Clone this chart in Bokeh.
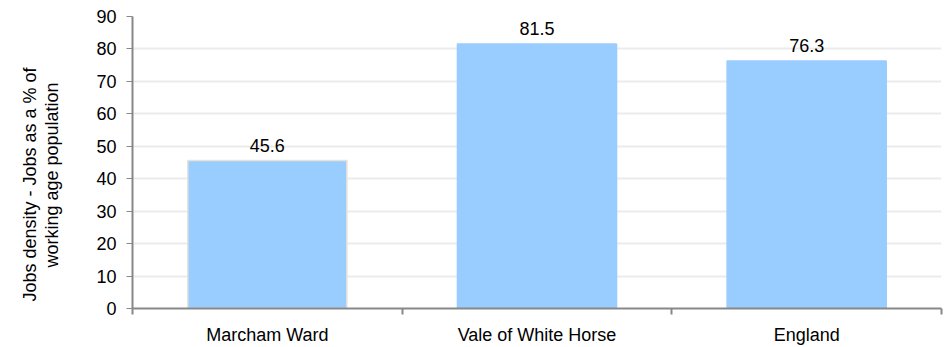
from bokeh.plotting import figure
from bokeh.models import ColumnDataSource, FixedTicker, Range1d, LabelSet, Title
from bokeh.core.properties import value
from bokeh.embed import file_html
from bokeh.resources import INLINE

categories = ["Marcham Ward", "Vale of White Horse", "England"]
values = [45.6, 81.5, 76.3]
y_ticks = [0, 10, 20, 30, 40, 50, 60, 70, 80, 90]
y_title = ["Jobs density - Jobs as a % of", "working age population"]

xs = [i + 0.5 for i in range(len(categories))]
labels = [f"{v:.1f}" for v in values]
line_colors = ["#e6e2d6", "#99ccff", "#99ccff"]

src = ColumnDataSource(dict(x=xs, top=values, label=labels, lc=line_colors))

p = figure(width=943, height=347, output_backend="svg", toolbar_location=None,
           x_range=Range1d(0, len(categories)), y_range=Range1d(0, 90),
           min_border_left=132, min_border_right=2, min_border_top=16, min_border_bottom=37)
p.outline_line_color = None
p.background_fill_color = "white"
p.border_fill_color = "white"

p.vbar(x="x", top="top", width=0.59, bottom=0, source=src,
       fill_color="#99ccff", line_color="lc", line_width=1.5)

font = "Liberation Sans"
p.add_layout(LabelSet(x="x", y="top", text="label", source=src,
                      text_align="center", text_baseline="alphabetic", y_offset=9,
                      text_font=value(font), text_font_size=value("18px"),
                      text_color="#000000"))

# spacer between the y axis and its title lines
p.add_layout(Title(text=" ", standoff=10, text_font=font, text_font_size="18px",
                   text_font_style="normal"), "left")

# y axis title: two lines as left-side titles (inner line first)
offsets = [7, 41]
for line, off in reversed(list(zip(y_title, offsets))):
    p.add_layout(Title(text=line, align="left", offset=off, standoff=0,
                       text_font=font, text_font_size="18px", text_font_style="normal",
                       text_color="#000000"), "left")

# x axis
p.xaxis.ticker = FixedTicker(ticks=xs, minor_ticks=list(range(len(categories) + 1)))
p.xaxis.major_label_overrides = {x: c for x, c in zip(xs, categories)}
p.xaxis.major_tick_in = 0
p.xaxis.major_tick_out = 0
p.xaxis.minor_tick_in = 0
p.xaxis.minor_tick_out = 6
p.xaxis.minor_tick_line_color = "#888888"
p.xaxis.axis_line_color = "#888888"
p.xaxis.axis_line_width = 2
p.xaxis.minor_tick_line_width = 2
p.xaxis.major_label_text_font = font
p.xaxis.major_label_text_font_size = "18px"
p.xaxis.major_label_text_color = "#000000"
p.xaxis.major_label_standoff = 10

# y axis
p.yaxis.ticker = FixedTicker(ticks=y_ticks)
p.yaxis.major_tick_in = 0
p.yaxis.major_tick_out = 6
p.yaxis.minor_tick_out = 0
p.yaxis.minor_tick_in = 0
p.yaxis.major_tick_line_color = "#888888"
p.yaxis.major_tick_line_width = 1
p.yaxis.axis_line_color = "#888888"
p.yaxis.axis_line_width = 2
p.yaxis.major_label_text_font = font
p.yaxis.major_label_text_font_size = "18px"
p.yaxis.major_label_text_color = "#000000"
p.yaxis.major_label_standoff = 10

p.xgrid.grid_line_color = None
p.ygrid.grid_line_color = "#ebebeb"
p.ygrid.grid_line_width = 2

open("out.html", "w").write(file_html(p, INLINE))
